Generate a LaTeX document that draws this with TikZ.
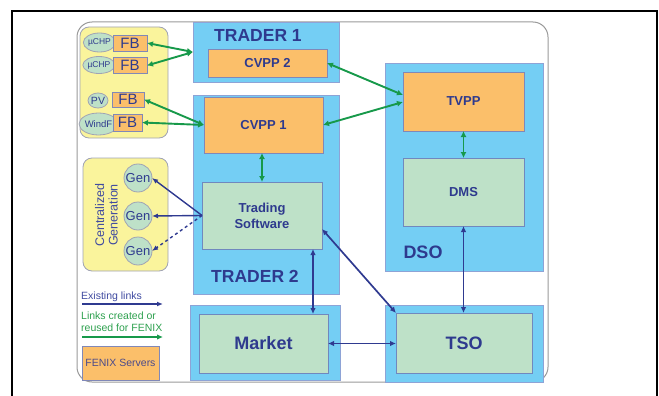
\documentclass[tikz,border=0pt]{standalone}
\usepackage{fontspec}
\setmainfont{Liberation Sans}
\usetikzlibrary{arrows.meta,calc,shapes.geometric}
\definecolor{skyb}{HTML}{74CEF4}
\definecolor{bordb}{HTML}{8EA3D6}
\definecolor{orng}{HTML}{FBBF6A}
\definecolor{bordo}{HTML}{8088B8}
\definecolor{grn}{HTML}{BEE1C8}
\definecolor{bordg}{HTML}{7088BE}
\definecolor{yell}{HTML}{FAF49C}
\definecolor{bordy}{HTML}{A0A3B4}
\definecolor{navy}{HTML}{2E3A8E}
\definecolor{garr}{HTML}{17994A}
\definecolor{narr}{HTML}{2F3A90}
\definecolor{legn}{HTML}{3F4AA0}
\definecolor{legg}{HTML}{2DA04E}
\definecolor{srvtxt}{HTML}{4A4A8A}
\begin{document}
\begin{tikzpicture}[x=1pt,y=-1pt,
  container/.style={draw=bordb, fill=skyb, line width=0.8pt, inner sep=0pt, outer sep=0pt},
  orangebox/.style={draw=bordo, fill=orng, line width=0.8pt, inner sep=0pt, outer sep=0pt,
     text=navy, font=\fontsize{13}{15}\selectfont\bfseries},
  greenbox/.style={draw=bordg, fill=grn, line width=0.8pt, inner sep=0pt, outer sep=0pt,
     text=navy, font=\fontsize{13}{16}\selectfont\bfseries, align=center},
  bigbox/.style={greenbox, font=\fontsize{18}{20}\selectfont\bfseries},
  yellowbox/.style={draw=bordy, fill=yell, line width=0.8pt, rounded corners=9pt, inner sep=0pt, outer sep=0pt},
  title/.style={text=navy, font=\fontsize{17.5}{20}\selectfont\bfseries, inner sep=0pt},
  fbbox/.style={draw=bordo, fill=orng, line width=0.8pt, inner sep=0pt, outer sep=0pt,
     text=navy, font=\fontsize{15}{16}\selectfont},
  source/.style={ellipse, draw=bordy, fill=grn, line width=0.8pt, inner sep=0pt, outer sep=0pt, text=navy},
  gen/.style={circle, draw=bordy, fill=grn, line width=0.8pt, inner sep=0pt, outer sep=0pt,
     minimum size=28pt, text=navy, font=\fontsize{13}{14}\selectfont},
  garrow/.style={draw=garr, line width=1.9pt, {Latex[length=6pt,width=6pt]}-{Latex[length=6pt,width=6pt]}},
  narrow/.style={draw=narr, line width=1.7pt, {Latex[length=6pt,width=5.5pt]}-{Latex[length=6pt,width=5.5pt]}},
  nsingle/.style={draw=narr, line width=1.4pt, -{Latex[length=6pt,width=5pt]}},
  gsingle/.style={draw=garr, line width=1.8pt, -{Latex[length=6pt,width=5.5pt]}},
  legtext/.style={inner sep=0pt, anchor=west, align=left, font=\fontsize{10.5}{12}\selectfont}
]
\path[use as bounding box] (0,0) rectangle (659,396);
% outer frame
\draw[line width=1.5pt] (12,396) -- (12,11) -- (657,11) -- (657,396);
% gray rounded frame
\draw[draw=black!40, line width=1pt, rounded corners=15pt] (77,22) rectangle (548,382);

% containers
\node[container, minimum width=146pt, minimum height=60pt] (trader1) at (266,52) {};
\node[container, minimum width=146pt, minimum height=199pt] (trader2) at (266,194.5) {};
\node[container, minimum width=158pt, minimum height=208pt] (dso) at (464,167) {};
\node[container, minimum width=150pt, minimum height=75pt] (marketout) at (265,342.5) {};
\node[container, minimum width=158pt, minimum height=77pt] (tsoout) at (464,343.5) {};

\node[title] (t1) at (258,35) {TRADER 1};
\node[title] (t2) at (255,276) {TRADER 2};
\node[title, font=\fontsize{18}{20}\selectfont\bfseries] (tdso) at (423,252) {DSO};

% inner boxes
\node[orangebox, minimum width=119pt, minimum height=28pt] (cvpp2) at (267.5,63) {CVPP 2};
\node[orangebox, minimum width=119pt, minimum height=56pt] (cvpp1) at (263.5,125) {CVPP 1};
\node[greenbox, minimum width=120pt, minimum height=67pt] (ts) at (262,215.5) {Trading\\Software};
\node[orangebox, minimum width=121pt, minimum height=59pt] (tvpp) at (463.5,101.5) {TVPP};
\node[greenbox, minimum width=121pt, minimum height=68pt] (dms) at (463.5,192) {DMS};
\node[bigbox, minimum width=129pt, minimum height=59pt] (market) at (263.5,343.5) {Market};
\node[bigbox, minimum width=136pt, minimum height=60pt] (tso) at (464,343) {TSO};

% DER panel
\node[yellowbox, minimum width=88pt, minimum height=111pt] (der) at (124,82.5) {};
\node[source, minimum width=27pt, minimum height=19pt, font=\fontsize{8.5}{9}\selectfont] (chp1) at (99.5,42.5) {\textmu CHP};
\node[source, minimum width=26pt, minimum height=17pt, font=\fontsize{8.5}{9}\selectfont] (chp2) at (99,65) {\textmu CHP};
\node[source, minimum width=20pt, minimum height=15pt, font=\fontsize{10.5}{11}\selectfont] (pv) at (98,100.5) {PV};
\node[source, minimum width=29pt, minimum height=22pt, font=\fontsize{9.5}{10}\selectfont] (wind) at (98.5,124) {WindF};
\node[fbbox, minimum width=34pt, minimum height=16pt] (fb1) at (130,43) {FB};
\node[fbbox, minimum width=34pt, minimum height=16pt] (fb2) at (130,65.5) {FB};
\node[fbbox, minimum width=32pt, minimum height=15pt] (fb3) at (128,99.5) {FB};
\node[fbbox, minimum width=29pt, minimum height=17pt] (fb4) at (127.5,122.5) {FB};

% Centralized generation panel
\node[yellowbox, minimum width=85pt, minimum height=113pt] (cg) at (125.5,214.5) {};
\node[rotate=90, align=center, inner sep=0pt, text=legn, font=\fontsize{12.5}{13.5}\selectfont] (cgtxt) at (106.5,215) {Centralized\\Generation};
\node[gen] (gen1) at (138,178) {Gen};
\node[gen] (gen2) at (138,216) {Gen};
\node[gen] (gen3) at (138,251) {Gen};

% legend
\node[legtext, text=legn] (lex) at (81,297) {Existing links};
\coordinate (la1) at (82,304);
\coordinate (la2) at (163,304);
\draw[nsingle] (la1) -- (la2);
\node[legtext, text=legg] (lnew) at (81,321.5) {Links created or\\reused for FENIX};
\coordinate (lb1) at (82,337);
\coordinate (lb2) at (163,337);
\draw[gsingle] (lb1) -- (lb2);
\node[fbbox, minimum width=77pt, minimum height=34pt, text=srvtxt, font=\fontsize{10.5}{12}\selectfont] (srv) at (120.5,363) {FENIX Servers};

% green links
\draw[garrow] (fb1.east) -- (trader1.west);
\draw[garrow] (fb2.east) -- (trader1.west);
\draw[garrow] (fb3.east) -- (cvpp1.west);
\draw[garrow] (fb4.east) -- (cvpp1.west);
\draw[garrow] (cvpp2.east) -- ($(tvpp.west)+(0,-6.5)$);
\draw[garrow] (cvpp1.east) -- ($(tvpp.west)+(0,0.5)$);
\draw[garrow] (ts.north) -- (ts.north |- cvpp1.south);
\draw[garrow] (tvpp.south) -- (tvpp.south |- dms.north);

% existing links
\draw[nsingle] (ts.west) -- (gen1.east);
\draw[nsingle] (ts.west) -- (gen2.east);
\draw[nsingle, dashed] (ts.west) -- (gen3.east);
\coordinate (tsm) at ($(ts.south east)+(-9,0)$);
\draw[narrow] (tsm) -- (tsm |- market.north);
\draw[narrow] ($(ts.east)+(0,13.5)$) -- (tso.north west);
\draw[narrow] (dms.south) -- (dms.south |- tso.north);
\draw[narrow] (market.east) -- (market.east -| tso.west);
\end{tikzpicture}
\end{document}
